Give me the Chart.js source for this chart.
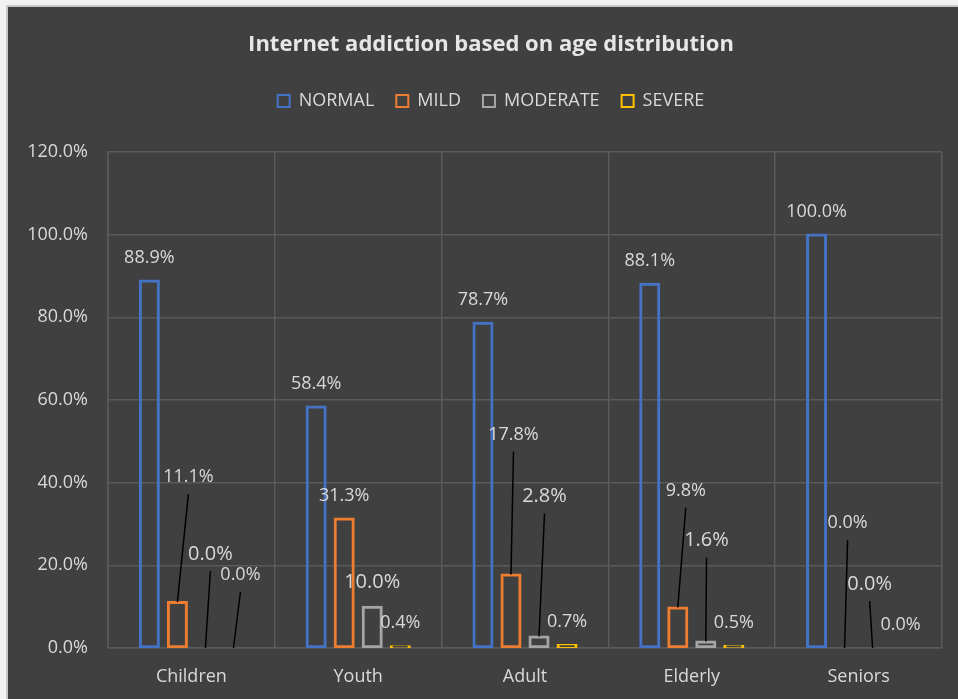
<!DOCTYPE html>
<html><head><meta charset="utf-8">
<script src="https://cdn.jsdelivr.net/npm/chart.js@4.4.1/dist/chart.umd.min.js"></script>
<style>
html,body{margin:0;padding:0;background:#f2f2f2;width:958px;height:699px;overflow:hidden}
#wrap{position:absolute;left:6px;top:5px;border-left:2px solid #c8c8c8;border-top:2px solid #c8c8c8;}
canvas{display:block;background:#404040}
</style></head><body>
<div id="wrap"><canvas id="c" width="950" height="692"></canvas></div>
<script>
const categories = ['Children', 'Youth', 'Adult', 'Elderly', 'Seniors'];
const seriesNames = ['NORMAL', 'MILD', 'MODERATE', 'SEVERE'];
const normal = [88.9, 58.4, 78.7, 88.1, 100.0];
const mild = [11.1, 31.3, 17.8, 9.8, 0.0];
const moderate = [0.0, 10.0, 2.8, 1.6, 0.0];
const severe = [0.0, 0.4, 0.7, 0.5, 0.0];
const yTicks = [0, 20, 40, 60, 80, 100, 120];
const chartTitle = 'Internet addiction based on age distribution';

const colors = ['#4472C4', '#ED7D31', '#A5A5A5', '#FFC000'];
const FONT = "'Open Sans', 'Noto Sans', sans-serif";
const TEXT = '#d9d9d9';

// label placement relative to each bar's top centre [dx, dy]
const labelOffsets = [
  [[0,-23],[0,-23],[0,-23],[0,-23],[0,-23]],
  [[11,-125],[0,-23],[2.5,-140],[8,-117],[3,-125]],
  [[5,-94],[0,-24.5],[5.5,-140],[0.7,-101],[-3,-64]],
  [[7,-73],[0,-23],[0,-23],[0,-23],[0,-23]]
];
const labelSizes = [18, 18, 20, 18];

const barLabels = {
  id: 'barLabels',
  afterLayout(chart) {
    // let the y tick labels use the space left of the axis box
    chart.scales.y.left = 0;
  },
  afterDatasetsDraw(chart) {
    const ctx = chart.ctx;
    ctx.save();
    chart.data.datasets.forEach((ds, di) => {
      const meta = chart.getDatasetMeta(di);
      meta.data.forEach((bar, i) => {
        const off = labelOffsets[di][i];
        const lx = bar.x + off[0], ly = bar.y + off[1];
        if (off[1] < -40) {
          ctx.strokeStyle = '#000000';
          ctx.lineWidth = 1.5;
          ctx.beginPath();
          ctx.moveTo(lx, ly + 17);
          ctx.lineTo(bar.x, bar.y);
          ctx.stroke();
        }
        ctx.font = labelSizes[di] + 'px ' + FONT;
        ctx.fillStyle = TEXT;
        ctx.textAlign = 'center';
        ctx.textBaseline = 'middle';
        ctx.fillText(ds.data[i].toFixed(1) + '%', lx, ly);
      });
    });
    ctx.restore();
  }
};

const seriesData = [normal, mild, moderate, severe];
new Chart(document.getElementById('c'), {
  type: 'bar',
  data: {
    labels: categories,
    datasets: seriesNames.map((n, k) => ({
      label: n,
      data: seriesData[k],
      backgroundColor: 'rgba(0,0,0,0)',
      borderColor: colors[k],
      borderWidth: 1,
      borderSkipped: false,
      inflateAmount: c => (c.raw === 0 ? 0 : 1),
      categoryPercentage: 0.672,
      barPercentage: 0.68
    }))
  },
  options: {
    responsive: false,
    animation: false,
    devicePixelRatio: 1,
    layout: { padding: { top: 0, left: 32, right: 16, bottom: 13 } },
    plugins: {
      title: {
        display: true, text: chartTitle, color: '#e6e6e6',
        font: { family: FONT, size: 22, weight: 'bold', lineHeight: 1.2 },
        padding: { top: 25, bottom: 11.5 }
      },
      subtitle: {
        display: true, text: ' ', weight: 500,
        font: { size: 1, lineHeight: 1 },
        padding: { top: 0, bottom: 31 }
      },
      legend: {
        display: true, position: 'top',
        labels: {
          color: TEXT, boxWidth: 12, boxHeight: 12, padding: 22,
          font: { family: FONT, size: 18 },
          generateLabels(chart) {
            return Chart.defaults.plugins.legend.labels.generateLabels(chart)
              .map(l => Object.assign(l, { lineWidth: 2 }));
          }
        }
      },
      tooltip: { enabled: false }
    },
    scales: {
      x: {
        afterFit(axis) { axis.height = 38; },
        grid: { color: '#5a5a5a', lineWidth: 1.5, drawTicks: false, offset: true },
        border: { color: '#5a5a5a', width: 1.5 },
        ticks: { color: TEXT, padding: 18, maxRotation: 0, font: { family: FONT, size: 18 } }
      },
      y: {
        min: 0, max: 120,
        afterFit(axis) { axis.width = 68; },
        afterBuildTicks(axis) { axis.ticks = yTicks.map(v => ({ value: v })); },
        grid: { color: '#5a5a5a', lineWidth: 1.5, drawTicks: false },
        border: { color: '#5a5a5a', width: 1.5 },
        ticks: {
          color: TEXT, padding: 20, font: { family: FONT, size: 18 },
          callback: v => v.toFixed(1) + '%'
        }
      }
    }
  },
  plugins: [barLabels]
});
</script>
</body></html>
